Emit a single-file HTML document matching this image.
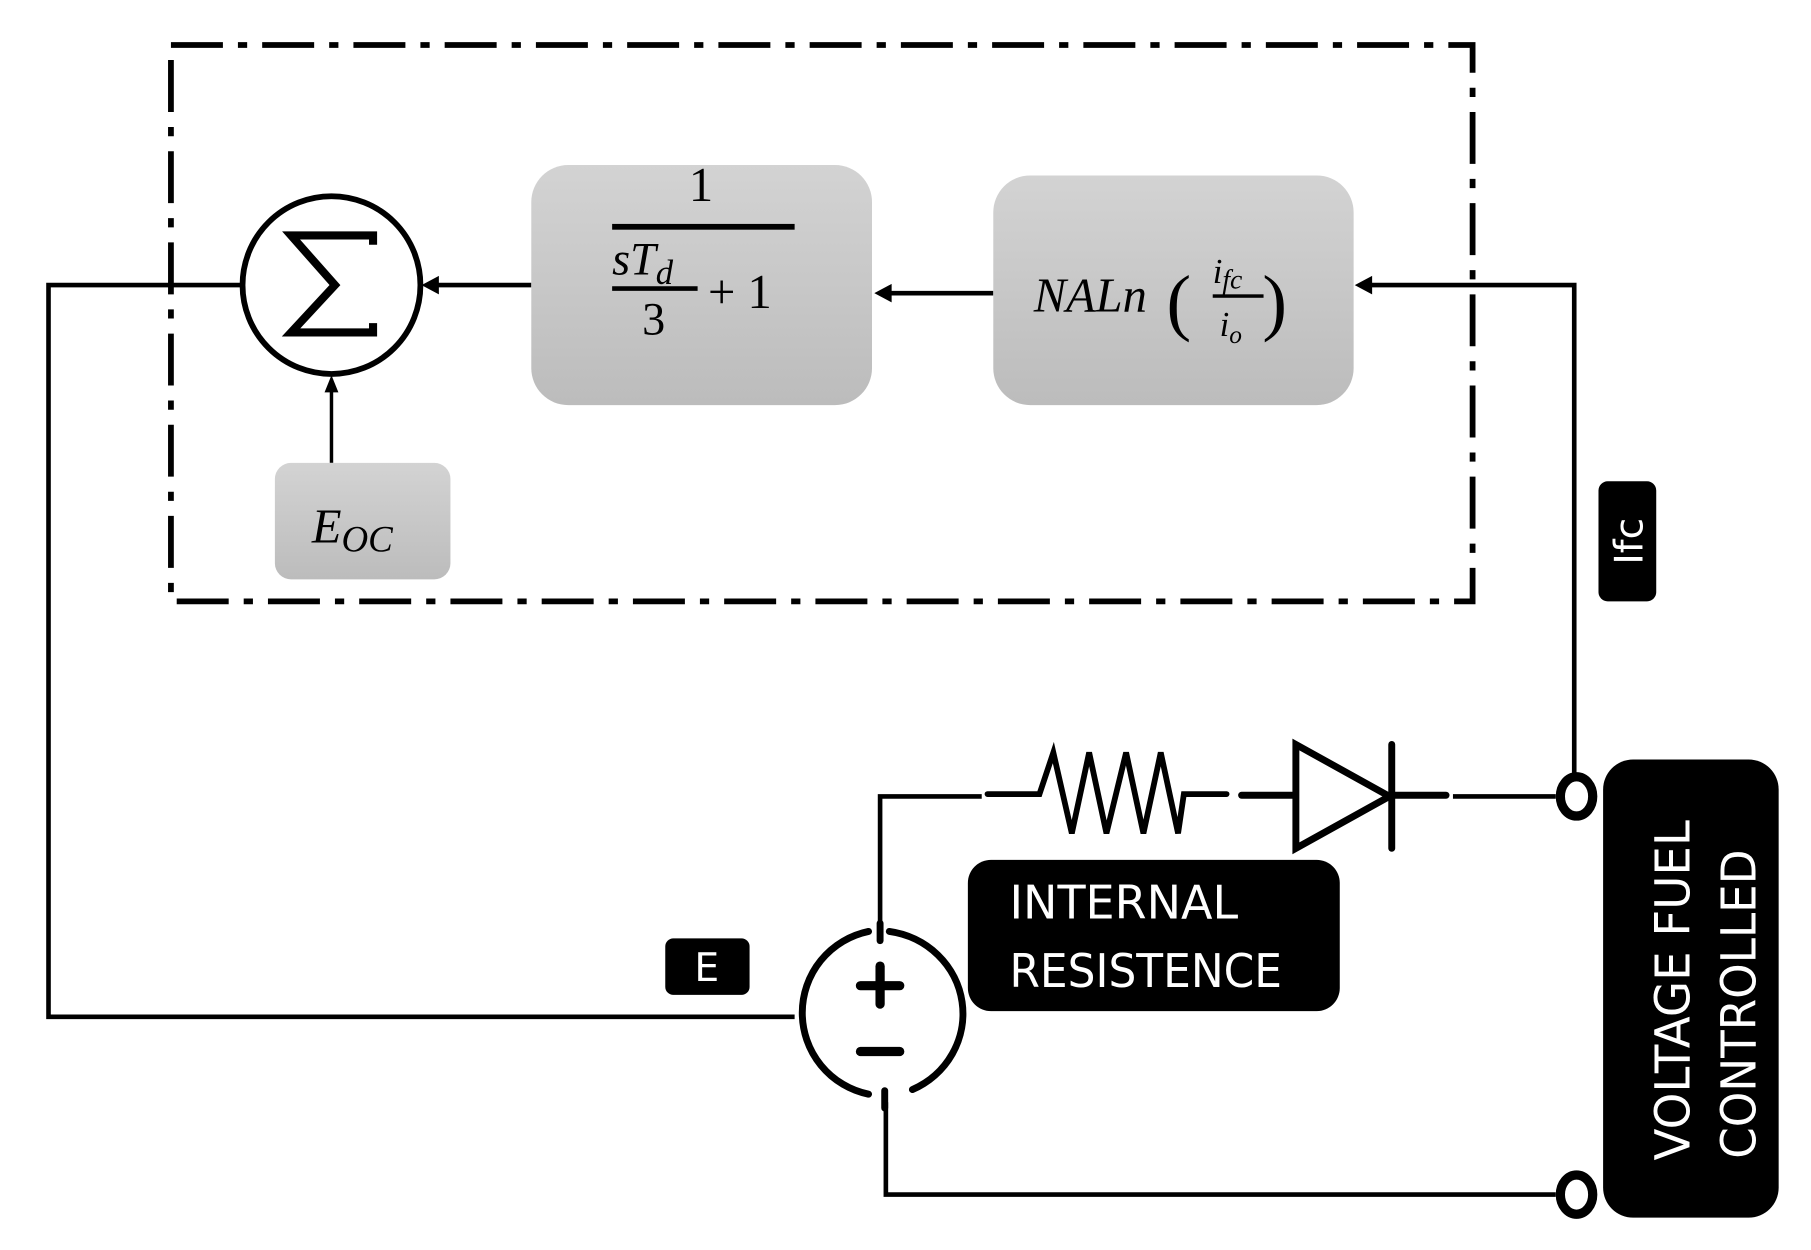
<!DOCTYPE html>
<html><head><meta charset="utf-8"><style>
html,body{margin:0;padding:0;background:#fff;}
svg{display:block;}
.m{font-family:"Liberation Serif",serif;font-style:italic;fill:#000;}
.n{font-family:"Liberation Serif",serif;font-style:normal;fill:#000;}
.w{font-family:"DejaVu Sans","Liberation Sans",sans-serif;fill:#fff;}
</style></head><body>
<svg width="1811" height="1250" viewBox="0 0 1568 1083" preserveAspectRatio="none" xmlns="http://www.w3.org/2000/svg">
<defs>
<linearGradient id="g" x1="0" y1="0" x2="0" y2="1"><stop offset="0" stop-color="#d3d3d3"/><stop offset="1" stop-color="#bcbcbc"/></linearGradient>
</defs>
<rect x="148" y="39" width="1127" height="482" fill="none" stroke="#000" stroke-width="5" stroke-dasharray="45 13 8 13"/>
<g stroke="#000" stroke-width="4" fill="none">
<polyline points="210,247 42,247 42,881 688,881"/>
<polyline points="1363,680 1363,247 1185,247"/>
<line x1="860" y1="254" x2="770" y2="254"/>
<line x1="460" y1="247" x2="378" y2="247"/>
<line x1="287" y1="401" x2="287" y2="338" stroke-width="3"/>
<polyline points="762,805 762,690 850,690"/>
<polyline points="767,955 767,1035 1347,1035"/>
<line x1="1258" y1="690" x2="1347" y2="690"/>
</g>
<g fill="#000">
<polygon points="1173,247 1188,239 1188,255"/>
<polygon points="757,254 772,246 772,262"/>
<polygon points="365,247 380,239 380,255"/>
<polygon points="287,325 281,340 293,340"/>
</g>
<circle cx="287" cy="247" r="77" fill="#fff" stroke="#000" stroke-width="5"/>
<polyline points="323,212 323,204 252,204 290,247 252,288 323,288 323,280" fill="none" stroke="#000" stroke-width="7" stroke-linejoin="miter"/>
<rect x="460" y="143" width="295" height="208" rx="32" fill="url(#g)"/>
<rect x="860" y="152" width="312" height="199" rx="32" fill="url(#g)"/>
<rect x="238" y="401" width="152" height="101" rx="14" fill="url(#g)"/>
<text x="607" y="174" class="n" font-size="42" text-anchor="middle">1</text>
<rect x="530" y="194" width="158" height="5" fill="#000"/>
<text x="530" y="238" class="m" font-size="40">sT<tspan font-size="30" dy="8">d</tspan></text>
<rect x="530" y="248" width="74" height="4" fill="#000"/>
<text x="566" y="290" class="n" font-size="40" text-anchor="middle">3</text>
<text x="613" y="267" class="n" font-size="42">+ 1</text>
<text x="895" y="270" class="m" font-size="42">NALn</text>
<text x="1010" y="283" class="n" font-size="64">(</text>
<text x="1093" y="283" class="n" font-size="64">)</text>
<text x="1050" y="245" class="m" font-size="30">i<tspan font-size="24" dy="5">fc</tspan></text>
<rect x="1050" y="255" width="44" height="3" fill="#000"/>
<text x="1056" y="291" class="m" font-size="30">i<tspan font-size="22" dy="6">o</tspan></text>
<text x="270" y="470" class="m" font-size="42">E<tspan font-size="32" dy="8">OC</tspan></text>
<rect x="1384" y="417" width="50" height="104" rx="8" fill="#000"/>
<text class="w" font-size="34" transform="translate(1422,469) rotate(-90)" text-anchor="middle">Ifc</text>
<rect x="576" y="813" width="73" height="49" rx="7" fill="#000"/>
<text x="612" y="850" class="w" font-size="34" text-anchor="middle">E</text>
<rect x="838" y="745" width="322" height="131" rx="20" fill="#000"/>
<text x="874" y="796" class="w" font-size="40" textLength="198" lengthAdjust="spacingAndGlyphs">INTERNAL</text>
<text x="874" y="855" class="w" font-size="40" textLength="236" lengthAdjust="spacingAndGlyphs">RESISTENCE</text>
<rect x="1388" y="658" width="152" height="397" rx="26" fill="#000"/>
<text class="w" font-size="42" transform="translate(1463,858) rotate(-90)" text-anchor="middle" textLength="295" lengthAdjust="spacingAndGlyphs">VOLTAGE FUEL</text>
<text class="w" font-size="42" transform="translate(1520,870) rotate(-90)" text-anchor="middle" textLength="268" lengthAdjust="spacingAndGlyphs">CONTROLLED</text>
<g stroke="#000" stroke-width="6" fill="none" stroke-linecap="round" stroke-linejoin="miter">
<polyline points="855,688 900,688 912,652 928,722 943,652 958,722 975,652 990,722 1005,652 1020,722 1025,688 1062,688" stroke-width="5"/>
<line x1="1075" y1="689" x2="1120" y2="689"/>
<polygon points="1122,645 1122,735 1203,690"/>
<line x1="1205" y1="645" x2="1205" y2="735"/>
<line x1="1205" y1="689" x2="1252" y2="689"/>
</g>
<ellipse cx="1365" cy="690" rx="14" ry="17" fill="#fff" stroke="#000" stroke-width="8"/>
<ellipse cx="1365" cy="1035" rx="14" ry="17" fill="#fff" stroke="#000" stroke-width="8"/>
<g stroke="#000" stroke-width="6" fill="none" stroke-linecap="round">
<path d="M770,807 A74,72 0 0 1 790,944"/>
<path d="M752,807 A72,72 0 0 0 752,948"/>
<line x1="762" y1="800" x2="762" y2="815"/>
<line x1="766" y1="945" x2="766" y2="960"/>
<line x1="762" y1="837" x2="762" y2="870" stroke-width="8"/>
<line x1="745" y1="854" x2="779" y2="854" stroke-width="8"/>
<line x1="745" y1="911" x2="779" y2="911" stroke-width="8"/>
</g>
</svg>
</body></html>
